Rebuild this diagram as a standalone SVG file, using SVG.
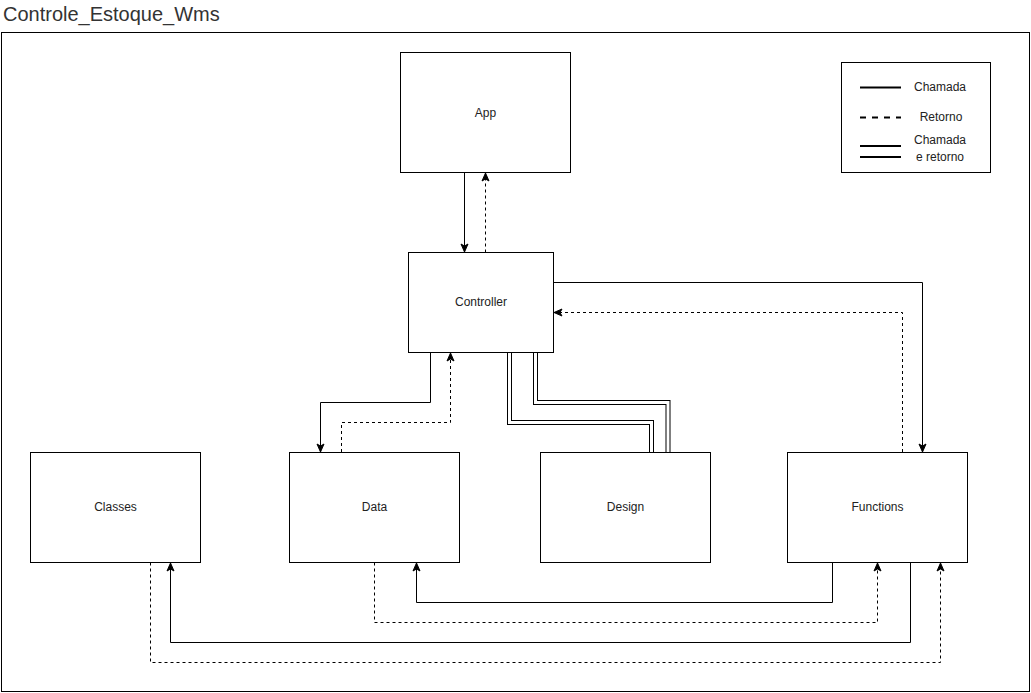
<svg xmlns="http://www.w3.org/2000/svg" width="1031" height="693" viewBox="0 0 1031 693">
<style>
.box{fill:#fff;stroke:#000;stroke-width:1}
.lbl{font-family:"Liberation Sans",Arial,sans-serif;font-size:12px;fill:#222;text-anchor:middle;dominant-baseline:central}
.c{fill:none;stroke:#000;stroke-width:1}
.d{fill:none;stroke:#000;stroke-width:1;stroke-dasharray:3 3}
.lo{fill:none;stroke:#000;stroke-width:5}
.li{fill:none;stroke:#fff;stroke-width:3}
</style>
<defs>
<marker id="ah" viewBox="0 0 10 10" refX="9" refY="5" markerWidth="10" markerHeight="10" markerUnits="userSpaceOnUse" orient="auto">
<path d="M1,1.5 L9,5 L1,8.5 L3,5 Z" fill="#000" stroke="#000" stroke-width="1"/>
</marker>
</defs>
<rect x="1.5" y="32.5" width="1028" height="659" fill="#fff" stroke="#000"/>
<text x="3" y="21" font-family="'Liberation Sans',Arial,sans-serif" font-size="20" fill="#333">Controle_Estoque_Wms</text>
<g id="connectors">
<path class="c" d="M464.5,172.5 V252" marker-end="url(#ah)"/>
<path class="d" d="M485.5,252.5 V173" marker-end="url(#ah)"/>
<path class="c" d="M553,282.5 H922.5 V452" marker-end="url(#ah)"/>
<path class="d" d="M902.5,452 V312.5 H554" marker-end="url(#ah)"/>
<path class="c" d="M430.5,352.5 V402.5 H320.5 V452" marker-end="url(#ah)"/>
<path class="d" d="M341.5,452 V422.5 H450.5 V353" marker-end="url(#ah)"/>
<path class="lo" d="M509.5,353 V422.5 H651.5 V452"/>
<path class="li" d="M509.5,353 V422.5 H651.5 V452"/>
<path class="lo" d="M535.5,353 V402.5 H668 V452"/>
<path class="li" d="M535.5,353 V402.5 H668 V452"/>
<path class="c" d="M832.5,562.5 V602.5 H416.5 V563" marker-end="url(#ah)"/>
<path class="d" d="M374.5,562.5 V622.5 H877.5 V563" marker-end="url(#ah)"/>
<path class="c" d="M910.5,562.5 V642.5 H170.5 V563" marker-end="url(#ah)"/>
<path class="d" d="M150.5,562.5 V662.5 H940.5 V563" marker-end="url(#ah)"/>
</g>
<g id="app"><rect class="box" x="400.5" y="52.5" width="170" height="120"/><text class="lbl" x="485.5" y="112.5">App</text></g>
<g id="controller"><rect class="box" x="408.5" y="252.5" width="145" height="100"/><text class="lbl" x="481" y="302">Controller</text></g>
<g id="classes"><rect class="box" x="30.5" y="452.5" width="170" height="110"/><text class="lbl" x="115.5" y="507">Classes</text></g>
<g id="data"><rect class="box" x="289.5" y="452.5" width="170" height="110"/><text class="lbl" x="374.5" y="507">Data</text></g>
<g id="design"><rect class="box" x="540.5" y="452.5" width="170" height="110"/><text class="lbl" x="625.5" y="507">Design</text></g>
<g id="functions"><rect class="box" x="787.5" y="452.5" width="180" height="110"/><text class="lbl" x="877.5" y="507">Functions</text></g>
<g id="legend">
<rect class="box" x="841.5" y="62.5" width="149" height="110"/>
<line x1="860" y1="87.5" x2="901" y2="87.5" stroke="#000" stroke-width="2"/>
<text class="lbl" x="940" y="87">Chamada</text>
<line x1="860" y1="117.5" x2="901" y2="117.5" stroke="#000" stroke-width="2" stroke-dasharray="6 6"/>
<text class="lbl" x="941" y="117">Retorno</text>
<line x1="860" y1="146" x2="901" y2="146" stroke="#000" stroke-width="2"/>
<line x1="860" y1="157" x2="901" y2="157" stroke="#000" stroke-width="2"/>
<text class="lbl" x="940" y="140">Chamada</text>
<text class="lbl" x="940" y="157">e retorno</text>
</g>
</svg>
